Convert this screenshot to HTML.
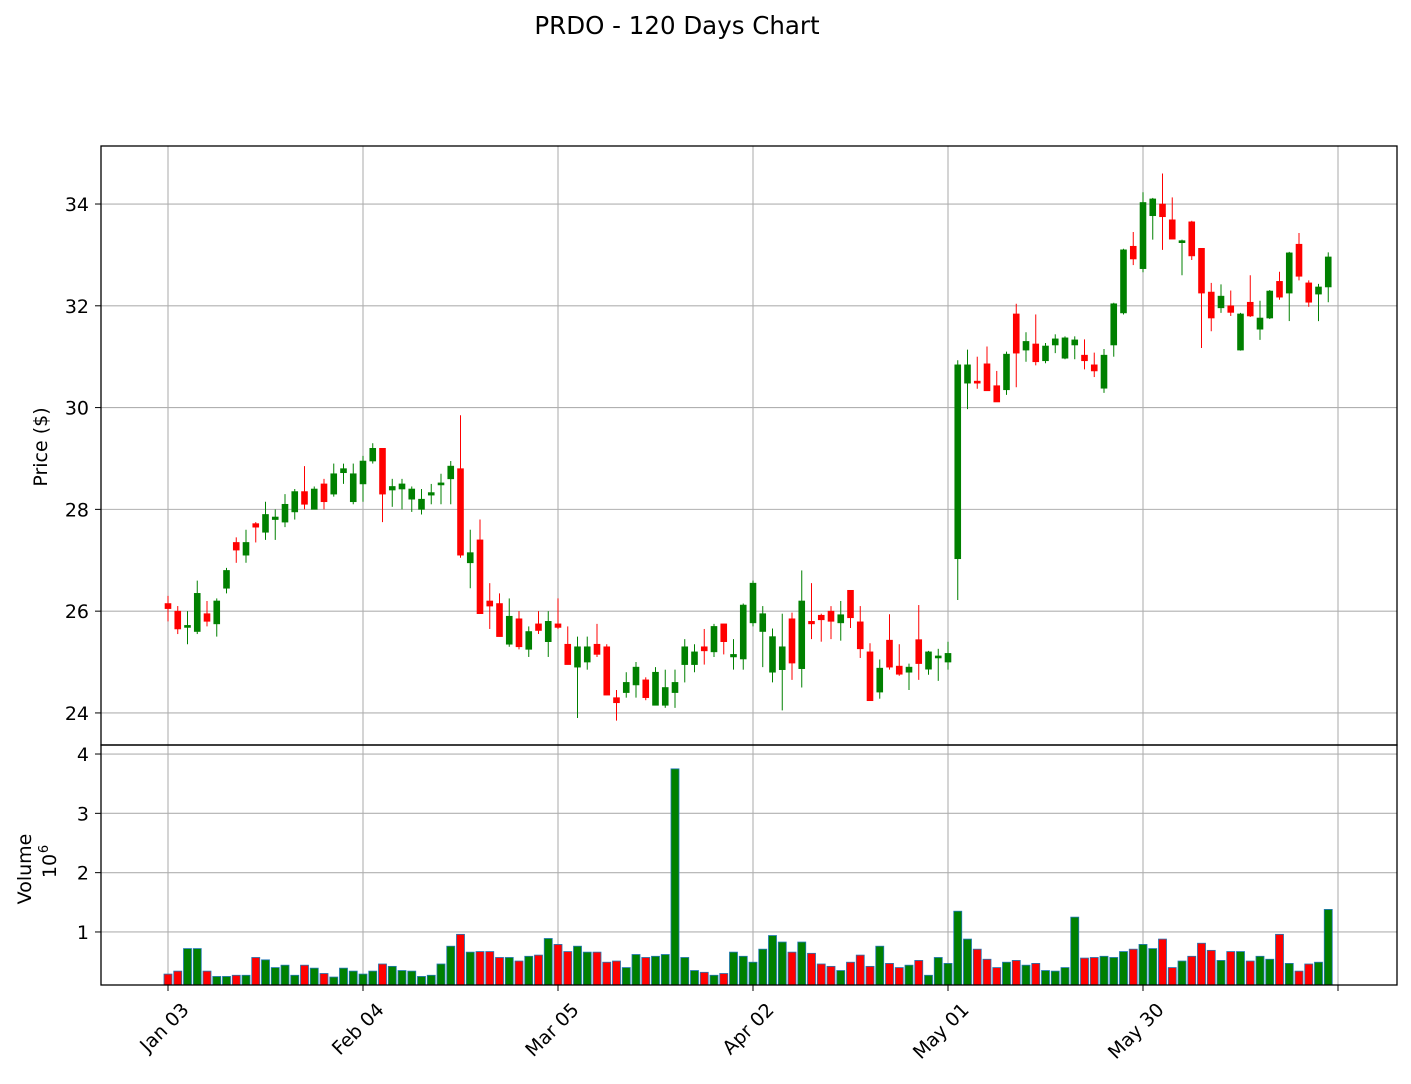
<!DOCTYPE html>
<html><head><meta charset="utf-8"><title>PRDO - 120 Days Chart</title>
<style>
html,body{margin:0;padding:0;background:#fff;}
svg{display:block;font-family:"DejaVu Sans","Liberation Sans",sans-serif;}
</style></head>
<body>
<svg id="chart" width="1411" height="1084" viewBox="0 0 1411 1084" xmlns="http://www.w3.org/2000/svg">
<rect width="1411" height="1084" fill="#fff"/>
<text x="677" y="34" text-anchor="middle" font-size="24.5" fill="#000">PRDO - 120 Days Chart</text>
<g id="grid"></g>
<g id="marks"></g>
<g id="axes"></g>
</svg>
<script>
const opens=[26.15,26.0,25.68,25.6,25.95,25.75,26.45,27.35,27.1,27.72,27.55,27.8,27.75,27.95,28.35,28.0,28.5,28.3,28.72,28.15,28.5,28.95,29.2,28.38,28.4,28.2,28.0,28.28,28.48,28.6,28.8,26.95,27.4,26.2,26.15,25.35,25.85,25.25,25.75,25.4,25.75,25.35,24.9,25.0,25.35,25.3,24.3,24.4,24.55,24.65,24.15,24.15,24.4,24.95,24.95,25.3,25.2,25.75,25.1,25.06,25.77,25.6,24.8,24.85,25.85,24.87,25.8,25.92,26.0,25.77,26.41,25.79,25.2,24.41,25.43,24.92,24.8,25.44,24.86,25.08,25.0,27.03,30.48,30.52,30.86,30.43,30.35,31.84,31.13,31.25,30.92,31.23,30.97,31.23,31.03,30.84,30.38,31.23,31.86,33.17,32.73,33.77,34.0,33.69,33.24,33.65,33.13,32.27,31.96,32.0,31.13,32.07,31.54,31.76,32.48,32.25,33.21,32.45,32.23,32.37];
const highs=[26.3,26.1,26.0,26.6,26.2,26.25,26.85,27.45,27.6,27.75,28.15,28.0,28.3,28.4,28.85,28.45,28.6,28.9,28.9,28.9,29.05,29.3,29.2,28.6,28.6,28.45,28.4,28.5,28.7,28.95,29.85,27.6,27.8,26.55,26.35,26.25,26.0,25.7,26.0,26.0,26.25,25.7,25.5,25.5,25.75,25.35,24.45,24.8,25.0,24.7,24.9,24.85,24.85,25.45,25.35,25.65,25.75,25.75,25.45,26.15,26.6,26.1,25.66,25.95,25.97,26.8,26.55,25.95,26.1,26.2,26.41,26.1,25.37,25.05,25.94,25.35,24.97,26.12,25.22,25.26,25.4,30.93,31.14,31.0,31.2,30.72,31.1,32.04,31.48,31.83,31.27,31.44,31.4,31.4,31.34,31.08,31.15,32.06,33.12,33.45,34.23,34.12,34.6,34.13,33.3,33.67,33.13,32.45,32.42,32.3,31.86,32.6,32.1,32.31,32.67,33.06,33.43,32.5,32.43,33.05];
const lows=[25.8,25.55,25.35,25.55,25.7,25.5,26.35,26.95,26.95,27.35,27.4,27.4,27.65,27.8,28.0,28.0,28.0,28.25,28.5,28.1,28.15,28.9,27.75,28.05,28.0,27.95,27.9,28.1,28.1,28.1,27.05,26.45,25.95,25.65,25.5,25.3,25.25,25.1,25.55,25.1,25.65,24.95,23.9,24.85,25.1,24.35,23.85,24.3,24.3,24.25,24.15,24.1,24.1,24.6,24.8,24.95,25.1,25.15,24.85,24.85,25.7,24.9,24.6,24.05,24.65,24.5,25.45,25.4,25.45,25.42,25.67,25.08,24.24,24.28,24.85,24.73,24.45,24.65,24.75,24.63,24.85,26.22,29.97,30.37,30.33,30.11,30.25,30.4,30.9,30.83,30.87,31.07,30.95,30.95,30.75,30.6,30.29,31.0,31.83,32.8,32.66,33.3,33.1,33.31,32.6,32.9,31.17,31.5,31.86,31.8,31.12,31.78,31.33,31.74,32.12,31.7,32.5,31.98,31.7,32.07];
const closes=[26.05,25.65,25.72,26.35,25.8,26.2,26.8,27.2,27.35,27.65,27.9,27.85,28.1,28.35,28.1,28.4,28.15,28.7,28.8,28.7,28.95,29.2,28.3,28.45,28.5,28.4,28.2,28.33,28.52,28.85,27.1,27.15,25.95,26.1,25.5,25.9,25.3,25.6,25.62,25.8,25.68,24.95,25.3,25.3,25.15,24.35,24.2,24.6,24.9,24.3,24.8,24.5,24.6,25.3,25.2,25.22,25.7,25.4,25.15,26.12,26.55,25.95,25.5,25.3,24.98,26.2,25.75,25.83,25.8,25.93,25.87,25.26,24.24,24.88,24.9,24.76,24.9,24.97,25.2,25.12,25.17,30.84,30.84,30.48,30.33,30.11,31.05,31.07,31.3,30.9,31.21,31.35,31.37,31.33,30.92,30.72,31.03,32.04,33.1,32.92,34.03,34.1,33.75,33.31,33.28,32.98,32.25,31.76,32.19,31.87,31.84,31.8,31.76,32.29,32.17,33.04,32.58,32.07,32.37,32.96];
const volumes=[0.29,0.34,0.72,0.72,0.34,0.25,0.25,0.27,0.27,0.57,0.53,0.40,0.44,0.27,0.44,0.39,0.30,0.24,0.39,0.34,0.29,0.34,0.46,0.42,0.35,0.34,0.25,0.27,0.46,0.76,0.96,0.66,0.67,0.67,0.57,0.57,0.51,0.59,0.61,0.89,0.79,0.67,0.76,0.66,0.66,0.49,0.51,0.40,0.62,0.57,0.59,0.62,3.75,0.57,0.35,0.32,0.27,0.30,0.66,0.59,0.49,0.71,0.94,0.83,0.66,0.83,0.64,0.46,0.42,0.35,0.49,0.61,0.42,0.76,0.47,0.40,0.44,0.52,0.27,0.57,0.47,1.35,0.88,0.71,0.54,0.40,0.49,0.52,0.44,0.47,0.35,0.34,0.40,1.25,0.56,0.57,0.59,0.57,0.67,0.71,0.79,0.72,0.88,0.40,0.51,0.59,0.81,0.69,0.52,0.67,0.67,0.51,0.59,0.54,0.96,0.47,0.34,0.46,0.49,1.38];
const xTickIdx=[0,20,40,60,80,100,120];
const xTickLabels=["Jan 03","Feb 04","Mar 05","Apr 02","May 01","May 30",""];
const priceTicks=[24,26,28,30,32,34];
const volTicks=[1,2,3,4];

const NS="http://www.w3.org/2000/svg";
const L=101,R=1397,PT=146,PB=745,VT=745,VB=985;
const X0=168,DX=9.75;
const P_MIN=23.37,P_MAX=35.14,V_MIN=0.106,V_MAX=4.152;
const FS=19;
function xs(i){return X0+i*DX;}
function py(p){return PB-(p-P_MIN)/(P_MAX-P_MIN)*(PB-PT);}
function vy(v){return VB-(v-V_MIN)/(V_MAX-V_MIN)*(VB-VT);}
function el(tag,attrs,parent){const e=document.createElementNS(NS,tag);for(const k in attrs)e.setAttribute(k,attrs[k]);parent.appendChild(e);return e;}
const grid=document.getElementById('grid'),marks=document.getElementById('marks'),axes=document.getElementById('axes');

xTickIdx.forEach(i=>{
  const g1=el('line',{x1:xs(i),x2:xs(i),y1:PT,y2:PB,stroke:'#b0b0b0','stroke-width':1.1},grid);
  
  
  const g2=el('line',{x1:xs(i),x2:xs(i),y1:VT,y2:VB,stroke:'#b0b0b0','stroke-width':1.1},grid);
  
  
});
priceTicks.forEach(p=>{
  const g=el('line',{x1:L,x2:R,y1:py(p),y2:py(p),stroke:'#b0b0b0','stroke-width':1.1},grid);
  
  
  const t=el('line',{x1:L-6,x2:L,y1:py(p),y2:py(p),stroke:'#000'},axes);
  
  
  const lb=el('text',{x:L-12,y:py(p)+7,'text-anchor':'end','font-size':FS},axes);
  lb.textContent=p;
  
  
});
volTicks.forEach(v=>{
  const g=el('line',{x1:L,x2:R,y1:vy(v),y2:vy(v),stroke:'#b0b0b0','stroke-width':1.1},grid);
  
  
  const t=el('line',{x1:L-6,x2:L,y1:vy(v),y2:vy(v),stroke:'#000'},axes);
  
  
  const lb=el('text',{x:L-12,y:vy(v)+7,'text-anchor':'end','font-size':FS},axes);
  lb.textContent=v;
  
  
});

for(let i=0;i<opens.length;i++){
  const up=closes[i]>=opens[i];
  const col=up?'#008000':'#ff0000';
  const g=el('g',{},marks);
  
  
  el('line',{x1:xs(i),x2:xs(i),y1:py(highs[i]),y2:py(lows[i]),stroke:col,'stroke-width':1},g);
  const top=py(Math.max(opens[i],closes[i])),bot=py(Math.min(opens[i],closes[i]));
  el('rect',{x:xs(i)-3,y:top,width:6,height:Math.max(bot-top,1.2),fill:col,stroke:col,'stroke-width':0.6},g);
  const b=el('rect',{x:xs(i)-4,y:vy(volumes[i]),width:8,height:VB-vy(volumes[i]),fill:col,stroke:'#1f77b4','stroke-width':0.8},marks);
  
  
}

const f1=el('rect',{x:L,y:PT,width:R-L,height:PB-PT,fill:'none',stroke:'#000','stroke-width':1.3},axes);


const f2=el('rect',{x:L,y:VT,width:R-L,height:VB-VT,fill:'none',stroke:'#000','stroke-width':1.3},axes);



xTickIdx.forEach((i,k)=>{
  const t=el('line',{x1:xs(i),x2:xs(i),y1:VB,y2:VB+6,stroke:'#000'},axes);
  
  
  if(xTickLabels[k]){
    const bx=xs(i)+22,by=VB+26;
    const lb=el('text',{x:bx,y:by,'text-anchor':'end','font-size':FS,transform:`rotate(-45 ${bx} ${by})`},axes);
    lb.textContent=xTickLabels[k];
    
    
  }
});

const yl=el('text',{x:47,y:447,'text-anchor':'middle','font-size':FS,transform:'rotate(-90 47 447)'},axes);
yl.textContent='Price ($)';


const vl=el('text',{x:31,y:869,'text-anchor':'middle','font-size':FS,transform:'rotate(-90 31 869)'},axes);
vl.textContent='Volume';


const vl2=el('text',{x:56,y:866,'text-anchor':'middle','font-size':FS,transform:'rotate(-90 56 866)'},axes);
vl2.textContent='10';


const vl3=el('text',{x:48,y:849,'text-anchor':'middle','font-size':13,transform:'rotate(-90 48 849)'},axes);
vl3.textContent='6';


</script>
</body></html>
